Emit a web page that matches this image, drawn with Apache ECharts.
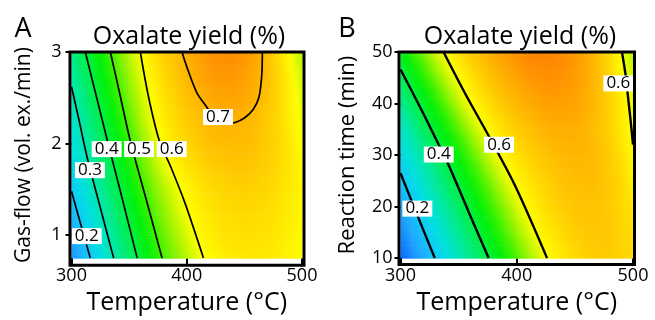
<!DOCTYPE html>
<html lang="en" style="height: 100%">
<head>
  <meta charset="utf-8">
</head>
<body style="height: 100%; margin: 0; background: #fff">
  <div id="container" style="width: 655px; height: 320px"></div>

  <script type="text/javascript" src="https://cdn.jsdelivr.net/npm/echarts@6/dist/echarts.min.js"></script>
  <script type="text/javascript">
// temperature columns shared by both panels (°C)
var tempC = [300, 310, 320, 330, 340, 350, 360, 370, 380, 390, 400, 410, 420, 430, 440, 450, 460, 470, 480, 490, 500];

// panel A: gas-flow rows (vol. ex./min), yield
var gasFlow = [0.75, 1, 1.25, 1.5, 1.75, 2, 2.25, 2.5, 2.75, 3];
var yieldA = [
  [0.122, 0.171, 0.219, 0.268, 0.317, 0.366, 0.414, 0.46, 0.504, 0.532, 0.56, 0.588, 0.605, 0.616, 0.624, 0.629, 0.63, 0.627, 0.621, 0.612, 0.60],
  [0.15, 0.198, 0.245, 0.293, 0.342, 0.39, 0.438, 0.485, 0.52, 0.549, 0.578, 0.605, 0.621, 0.631, 0.637, 0.64, 0.639, 0.635, 0.628, 0.618, 0.605],
  [0.176, 0.224, 0.271, 0.318, 0.366, 0.414, 0.462, 0.506, 0.538, 0.568, 0.597, 0.617, 0.631, 0.641, 0.647, 0.649, 0.647, 0.642, 0.634, 0.623, 0.61],
  [0.202, 0.249, 0.295, 0.343, 0.391, 0.439, 0.488, 0.524, 0.556, 0.587, 0.612, 0.63, 0.643, 0.652, 0.658, 0.66, 0.657, 0.65, 0.64, 0.626, 0.61],
  [0.228, 0.273, 0.32, 0.367, 0.415, 0.465, 0.51, 0.548, 0.583, 0.612, 0.633, 0.649, 0.661, 0.669, 0.674, 0.674, 0.668, 0.66, 0.647, 0.63, 0.608],
  [0.251, 0.296, 0.343, 0.391, 0.441, 0.491, 0.532, 0.571, 0.607, 0.633, 0.653, 0.668, 0.68, 0.687, 0.69, 0.687, 0.679, 0.667, 0.652, 0.628, 0.60],
  [0.267, 0.317, 0.366, 0.415, 0.465, 0.512, 0.552, 0.592, 0.622, 0.647, 0.667, 0.683, 0.696, 0.703, 0.703, 0.697, 0.685, 0.668, 0.646, 0.62, 0.592],
  [0.289, 0.34, 0.39, 0.439, 0.49, 0.529, 0.568, 0.605, 0.635, 0.66, 0.682, 0.699, 0.712, 0.722, 0.723, 0.717, 0.70, 0.678, 0.65, 0.617, 0.58],
  [0.312, 0.364, 0.414, 0.461, 0.507, 0.546, 0.584, 0.62, 0.648, 0.674, 0.697, 0.717, 0.732, 0.74, 0.738, 0.728, 0.71, 0.683, 0.65, 0.612, 0.568],
  [0.336, 0.389, 0.437, 0.483, 0.524, 0.563, 0.601, 0.632, 0.66, 0.685, 0.706, 0.727, 0.745, 0.755, 0.755, 0.745, 0.718, 0.683, 0.64, 0.598, 0.553]
];

// panel B: reaction time rows (min)
var reactTime = [10, 15, 20, 25, 30, 35, 40, 45, 50];
var yieldB = [
  [0.073, 0.116, 0.159, 0.202, 0.245, 0.289, 0.332, 0.375, 0.419, 0.464, 0.507, 0.543, 0.578, 0.609, 0.63, 0.648, 0.66, 0.667, 0.666, 0.658, 0.645],
  [0.11, 0.154, 0.197, 0.241, 0.285, 0.328, 0.372, 0.417, 0.462, 0.506, 0.542, 0.578, 0.61, 0.632, 0.649, 0.662, 0.671, 0.674, 0.67, 0.658, 0.64],
  [0.149, 0.193, 0.237, 0.281, 0.326, 0.37, 0.415, 0.46, 0.505, 0.54, 0.577, 0.611, 0.633, 0.652, 0.666, 0.675, 0.679, 0.677, 0.668, 0.652, 0.63],
  [0.188, 0.233, 0.278, 0.323, 0.368, 0.413, 0.459, 0.504, 0.541, 0.577, 0.61, 0.633, 0.652, 0.668, 0.679, 0.686, 0.688, 0.683, 0.67, 0.648, 0.618],
  [0.229, 0.275, 0.32, 0.366, 0.413, 0.461, 0.507, 0.545, 0.583, 0.614, 0.638, 0.657, 0.672, 0.685, 0.694, 0.698, 0.695, 0.685, 0.668, 0.64, 0.605],
  [0.273, 0.321, 0.37, 0.418, 0.467, 0.512, 0.551, 0.589, 0.62, 0.645, 0.665, 0.682, 0.695, 0.704, 0.708, 0.706, 0.696, 0.68, 0.657, 0.628, 0.597],
  [0.322, 0.373, 0.423, 0.474, 0.52, 0.56, 0.6, 0.628, 0.653, 0.676, 0.695, 0.71, 0.722, 0.728, 0.729, 0.722, 0.707, 0.686, 0.66, 0.627, 0.588],
  [0.379, 0.431, 0.482, 0.526, 0.566, 0.604, 0.635, 0.662, 0.686, 0.707, 0.724, 0.738, 0.747, 0.75, 0.745, 0.733, 0.713, 0.686, 0.652, 0.61, 0.568],
  [0.439, 0.49, 0.532, 0.572, 0.61, 0.64, 0.668, 0.692, 0.715, 0.735, 0.752, 0.765, 0.77, 0.767, 0.757, 0.74, 0.715, 0.684, 0.645, 0.6, 0.552]
];

// contour lines [temperature, gas-flow] (panel A)
var contA02 = [[300, 1.48], [308, 1.12], [316.3, 0.75]];
var contA03 = [[300, 2.62], [306.8, 2.24], [313.4, 1.86], [325, 1.3], [336.6, 0.75]];
var contA04 = [[312, 3], [321.5, 2.52], [331, 2.04], [344, 1.4], [357, 0.75]];
var contA05 = [[333.7, 3], [342.3, 2.52], [350.8, 2.04], [364.6, 1.4], [378.6, 0.75]];
var contA06 = [[359.7, 3], [367, 2.5], [376, 2.04], [386, 1.75], [398.5, 1.35], [414.5, 0.75]];
var contA07 = [[395.9, 3], [400, 2.84], [408.6, 2.56], [417.3, 2.4], [425, 2.27], [434, 2.215], [441.9, 2.23], [450, 2.28], [457.5, 2.37], [462.5, 2.5], [465, 2.73], [465.6, 3]];
// contour lines [temperature, time] (panel B)
var contB02 = [[300, 26.5], [314.7, 18.2], [329.5, 10]];
var contB04 = [[300, 46.6], [318.2, 38.7], [334, 31.5], [341.3, 28.1], [358, 19.3], [375.8, 10]];
var contB06a = [[337, 50], [355.7, 41.9], [375.9, 33.7], [398.7, 24], [426.1, 10]];
var contB06b = [[490.5, 50], [494, 45], [495.4, 41.9], [497.8, 37], [500, 32]];

// contour labels: [text, temperature, y]
var labelsA = [['0.4', 330.5, 1.94], ['0.5', 358.6, 1.94], ['0.6', 386.9, 1.94], ['0.3', 316, 1.71], ['0.2', 313.2, 0.99], ['0.7', 427.1, 2.29]];
var labelsB = [['0.4', 332.9, 30.1], ['0.6', 384.8, 32.0], ['0.6', 487.4, 43.9], ['0.2', 314.5, 19.6]];

// colour scale from 0.05 to 0.80
var yieldColors = ['#0048ff', '#1080ff', '#20a8ff', '#10c8f8', '#00e0e0', '#00e8b0', '#00ec78', '#00f040',
  '#00f008', '#40f200', '#a8f400', '#ffff00', '#ffd800', '#ffb400', '#ff9000', '#ff6c00'];
var vMin = 0.05, vMax = 0.8;

var rgbStops = yieldColors.map(function (h) {
  return [parseInt(h.substr(1, 2), 16), parseInt(h.substr(3, 2), 16), parseInt(h.substr(5, 2), 16)];
});
function colorAt(v) {
  var t = (v - vMin) / (vMax - vMin) * (rgbStops.length - 1);
  t = Math.max(0, Math.min(rgbStops.length - 1, t));
  var k = Math.min(Math.floor(t), rgbStops.length - 2), f = t - k;
  var a = rgbStops[k], b = rgbStops[k + 1];
  return 'rgb(' + Math.round(a[0] + (b[0] - a[0]) * f) + ',' +
    Math.round(a[1] + (b[1] - a[1]) * f) + ',' + Math.round(a[2] + (b[2] - a[2]) * f) + ')';
}

function toNodes(rowsY, grid) {
  var out = [];
  for (var i = 0; i < rowsY.length; i++) {
    for (var j = 0; j < tempC.length; j++) {
      out.push([tempC[j], rowsY[i], grid[i][j]]);
    }
  }
  return out;
}

// each node paints the cell up-right of it, shaded smoothly between the four read values
function cellRenderer(rowsY, grid) {
  var nc = tempC.length;
  return function (params, api) {
    var i = Math.floor(params.dataIndex / nc), j = params.dataIndex % nc;
    if (i >= rowsY.length - 1 || j >= nc - 1) return null;
    var p0 = api.coord([tempC[j], rowsY[i]]);
    var p1 = api.coord([tempC[j + 1], rowsY[i + 1]]);
    var v00 = grid[i][j], v01 = grid[i][j + 1], v10 = grid[i + 1][j], v11 = grid[i + 1][j + 1];
    var n = 8, h = (p0[1] - p1[1]) / n, kids = [];
    for (var s = 0; s < n; s++) {
      var fy = (s + 0.5) / n;
      var vl = v00 + (v10 - v00) * fy, vr = v01 + (v11 - v01) * fy;
      kids.push({
        type: 'rect',
        shape: { x: p0[0], y: p0[1] - (s + 1) * h, width: p1[0] - p0[0] + 0.6, height: h + 0.6 },
        style: {
          fill: new echarts.graphic.LinearGradient(0, 0, 1, 0, [
            { offset: 0, color: colorAt(vl) },
            { offset: 0.5, color: colorAt((vl + vr) / 2) },
            { offset: 1, color: colorAt(vr) }
          ])
        }
      });
    }
    return { type: 'group', children: kids };
  };
}

function contour(data, idx, w) {
  return {
    type: 'line', xAxisIndex: idx, yAxisIndex: idx, data: data,
    smooth: 0.3, symbol: 'none', silent: true, z: 4,
    lineStyle: { color: '#000', width: w }
  };
}

function labelSeries(list, idx) {
  return {
    type: 'scatter', xAxisIndex: idx, yAxisIndex: idx, symbolSize: 0, z: 6, silent: true,
    itemStyle: { opacity: 1 },
    data: list.map(function (l) { return { name: l[0], value: [l[1], l[2]] }; }),
    label: {
      show: true, position: 'inside', formatter: '{b}', opacity: 1,
      fontFamily: 'Open Sans', fontSize: 17, color: '#000',
      backgroundColor: '#ffffff', padding: [1, 3, 0, 3], lineHeight: 15
    }
  };
}

var font = 'Open Sans';

function xAx(idx) {
  return {
    type: 'value', gridIndex: idx, min: 300, max: 500, interval: 100,
    name: 'Temperature (°C)', nameLocation: 'middle', nameGap: 28,
    nameTextStyle: { fontFamily: font, fontSize: 25, color: '#000' },
    axisLine: { show: false }, splitLine: { show: false },
    axisTick: { length: 6, lineStyle: { color: '#000', width: 2 } },
    axisLabel: { fontFamily: font, fontSize: 18, color: '#000', margin: 9 }
  };
}

var dom = document.getElementById('container');
var myChart = echarts.init(dom, null, { renderer: 'canvas' });

var option = {
  animation: false,
  backgroundColor: '#fff',
  grid: [
    { left: 71.5, top: 52, width: 230.5, height: 213 },
    { left: 400.5, top: 52, width: 232.5, height: 212 }
  ],
  xAxis: [xAx(0), xAx(1)],
  yAxis: [
    {
      type: 'value', gridIndex: 0, min: 0.75, max: 3,
      name: 'Gas-flow (vol. ex./min)', nameLocation: 'middle', nameGap: 37, nameRotate: 90,
      nameTextStyle: { fontFamily: font, fontSize: 21, color: '#000' },
      axisLine: { show: false }, splitLine: { show: false },
      axisTick: { length: 6, customValues: [1, 2, 3], lineStyle: { color: '#000', width: 2 } },
      axisLabel: { fontFamily: font, fontSize: 18, color: '#000', margin: 10, customValues: [1, 2, 3] }
    },
    {
      type: 'value', gridIndex: 1, min: 10, max: 50, interval: 10,
      name: 'Reaction time (min)', nameLocation: 'middle', nameGap: 42, nameRotate: 90,
      nameTextStyle: { fontFamily: font, fontSize: 22, color: '#000' },
      axisLine: { show: false }, splitLine: { show: false },
      axisTick: { length: 6, lineStyle: { color: '#000', width: 2 } },
      axisLabel: { fontFamily: font, fontSize: 18, color: '#000', margin: 8 }
    }
  ],
  series: [
    { type: 'custom', xAxisIndex: 0, yAxisIndex: 0, renderItem: cellRenderer(gasFlow, yieldA), data: toNodes(gasFlow, yieldA), z: 1, silent: true },
    { type: 'custom', xAxisIndex: 1, yAxisIndex: 1, renderItem: cellRenderer(reactTime, yieldB), data: toNodes(reactTime, yieldB), z: 1, silent: true },
    contour(contA02, 0, 1.7), contour(contA03, 0, 1.7), contour(contA04, 0, 1.7),
    contour(contA05, 0, 1.7), contour(contA06, 0, 1.7), contour(contA07, 0, 1.7),
    contour(contB02, 1, 2.4), contour(contB04, 1, 2.4), contour(contB06a, 1, 2.4), contour(contB06b, 1, 2.4),
    labelSeries(labelsA, 0), labelSeries(labelsB, 1)
  ],
  graphic: [
    { type: 'rect', z: 100, shape: { x: 70, y: 52, width: 234, height: 213.3 }, style: { fill: null, stroke: '#000', lineWidth: 3 } },
    { type: 'rect', z: 100, shape: { x: 399, y: 52, width: 235.5, height: 212.5 }, style: { fill: null, stroke: '#000', lineWidth: 3 } },
    { type: 'text', x: 23, y: 29, style: { text: 'A', font: '27px "Open Sans"', fill: '#000', align: 'center', verticalAlign: 'middle' } },
    { type: 'text', x: 347, y: 29, style: { text: 'B', font: '27px "Open Sans"', fill: '#000', align: 'center', verticalAlign: 'middle' } },
    { type: 'text', x: 189, y: 37, style: { text: 'Oxalate yield (%)', font: '25px "Open Sans"', fill: '#000', align: 'center', verticalAlign: 'middle' } },
    { type: 'text', x: 520, y: 37, style: { text: 'Oxalate yield (%)', font: '25px "Open Sans"', fill: '#000', align: 'center', verticalAlign: 'middle' } }
  ]
};

myChart.setOption(option);
window.addEventListener('resize', myChart.resize);
  </script>
</body>
</html>
